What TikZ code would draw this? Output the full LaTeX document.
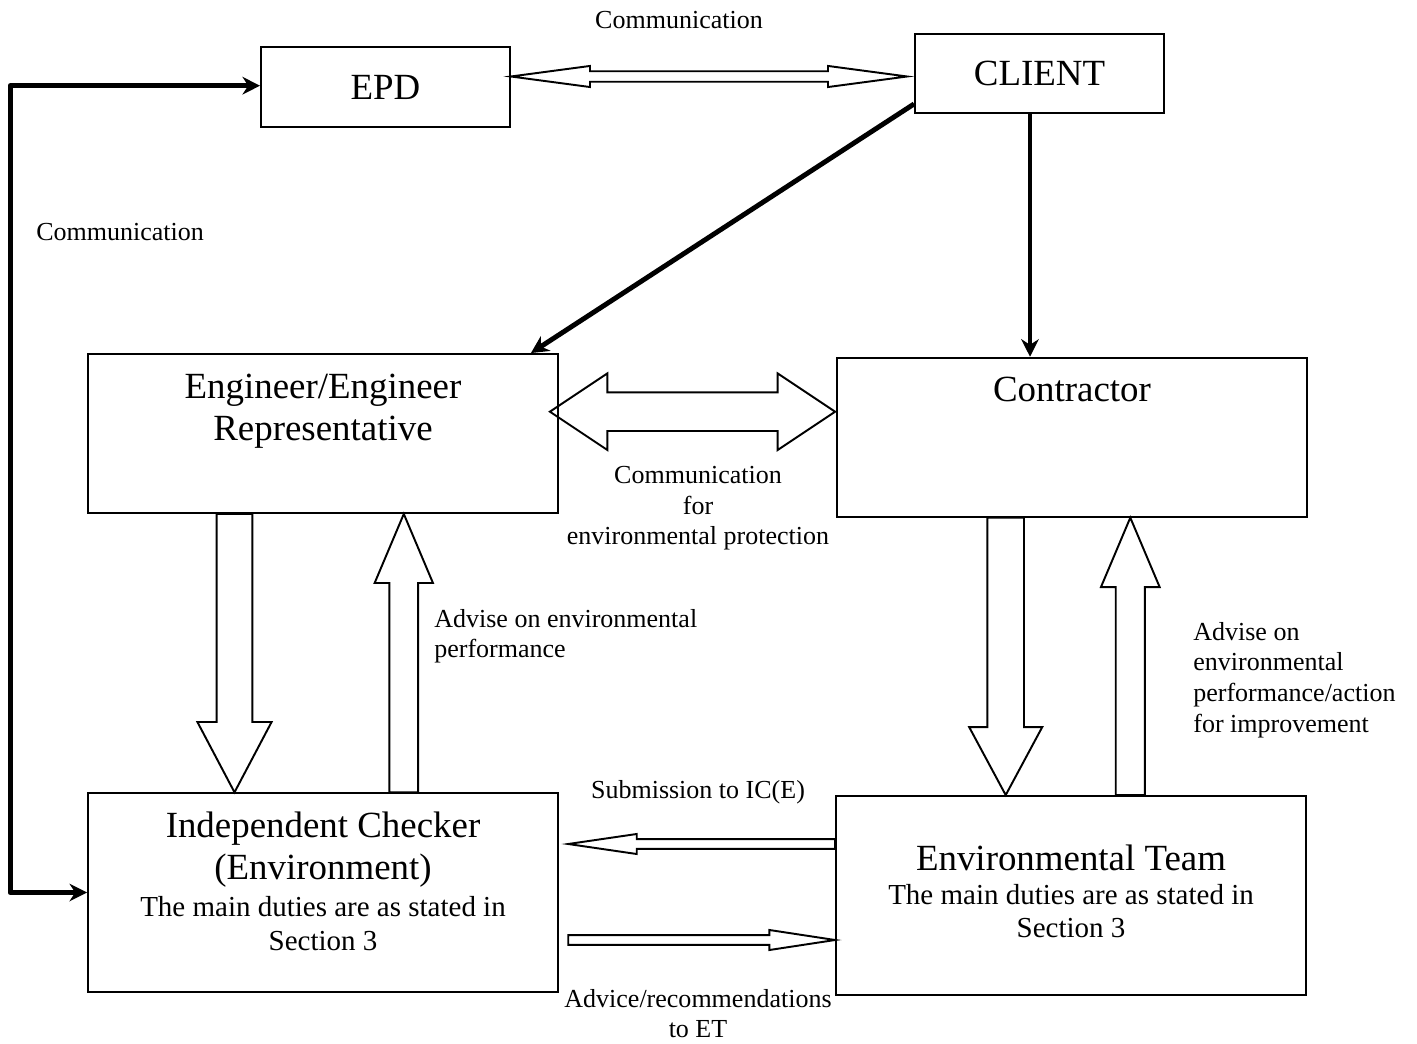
\documentclass[tikz,border=0pt]{standalone}
\usepackage{fontspec}
\setmainfont{Liberation Serif}
\usetikzlibrary{calc,arrows.meta}

\newcommand\bigtxt{\fontsize{21}{23.8}\selectfont}
\newcommand\midtxt{\fontsize{16.5}{19.05}\selectfont}
\newcommand\smltxt{\fontsize{14.8}{17.4}\selectfont}

% hollow block arrow: from, to, shaft half width, head half width, head length (pt)
\newcommand\blkarrow[5]{%
  \path[blockarr] let \p1=(#1), \p2=(#2),
      \n1={atan2(\y2-\y1,\x2-\x1)}, \n2={veclen(\x2-\x1,\y2-\y1)} in
    [shift={(\p1)}, rotate=\n1]
    (0pt,#3pt) -- (\n2*1pt-#5pt,#3pt) -- (\n2*1pt-#5pt,#4pt) -- (\n2*1pt,0pt)
    -- (\n2*1pt-#5pt,-#4pt) -- (\n2*1pt-#5pt,-#3pt) -- (0pt,-#3pt) -- cycle;}
\newcommand\dblblkarrow[5]{%
  \path[blockarr] let \p1=(#1), \p2=(#2),
      \n1={atan2(\y2-\y1,\x2-\x1)}, \n2={veclen(\x2-\x1,\y2-\y1)} in
    [shift={(\p1)}, rotate=\n1]
    (0pt,0pt) -- (#5pt,#4pt) -- (#5pt,#3pt) -- (\n2*1pt-#5pt,#3pt)
    -- (\n2*1pt-#5pt,#4pt) -- (\n2*1pt,0pt) -- (\n2*1pt-#5pt,-#4pt)
    -- (\n2*1pt-#5pt,-#3pt) -- (#5pt,-#3pt) -- (#5pt,-#4pt) -- cycle;}

\tikzset{
  box/.style={draw, line width=1.1pt, minimum width=9.4cm, inner sep=0pt},
  ttl/.style={font=\bigtxt, align=center, inner sep=0pt},
  note/.style={font=\midtxt, align=center, inner sep=0pt},
  lbl/.style={font=\smltxt, inner sep=0pt},
  blockarr/.style={draw, line width=1.1pt, line join=miter},
  thickarr/.style={line width=2.8pt, line join=round, ->},
  >={Stealth[length=10pt,width=10pt]}
}

\begin{document}
\begin{tikzpicture}[x=0.02cm, y=-0.02cm]
\useasboundingbox (0,0) rectangle (1417,1044);

% BOXES
  \node[box, minimum width=4.98cm, minimum height=1.6cm, font=\bigtxt] (epd) at (385.5,87) {EPD};
  \node[box, minimum width=4.98cm, minimum height=1.58cm, font=\bigtxt] (client) at (1039.5,73.5) {CLIENT};
  \node[box, minimum height=3.18cm] (eng) at (323,433.5) {};
  \node[box, minimum height=3.18cm] (contr) at (1072,437.2) {};
  \node[box, minimum height=3.97cm] (ic) at (323,892.5) {};
  \node[box, minimum height=3.98cm] (et) at (1071,895.5) {};

% BOX TEXTS
  \node[ttl, anchor=north] (engtxt) at ($(eng.north)+(0,21)$) {Engineer/Engineer\\Representative};
  \node[ttl, anchor=base] (contrtxt) at ($(contr.north)+(0,45)$) {Contractor};
  \node[ttl, anchor=north] (ictxt) at ($(ic.north)+(0,19.4)$) {Independent Checker\\(Environment)};
  \node[note, anchor=north] (icnote) at ($(ic.north)+(0,104)$) {The main duties are as stated in\\Section 3};
  \node[ttl, anchor=base] (ettxt) at ($(et.north)+(0,75)$) {Environmental Team};
  \node[note, anchor=north] (etnote) at ($(et.north)+(0,89)$) {The main duties are as stated in\\Section 3};

% THICK ARROWS
  \coordinate (cbend) at ($(epd.west)+(-250,-1.3)$);
  \draw[thickarr, <->] ($(epd.west)+(0,-1.3)$) -- (cbend) |- (ic.west);
  \draw[thickarr] ($(client.south west)+(0,-10)$) -- ($(eng.north east)+(-28,0)$);
  \coordinate (cdown) at ($(client.south)+(-9.5,0)$);
  \draw[thickarr] (cdown) -- (cdown |- contr.north);

% BLOCK ARROWS
  \dblblkarrow{$(epd.east)+(0,-10.5)$}{$(client.west)+(-7,3)$}{3}{6}{45}
  \dblblkarrow{$(eng.east)+(-9,-21.8)$}{$(contr.west)+(-1,-25.5)$}{11}{21.8}{32.7}

  \coordinate (ld) at ($(eng.south)+(-88.5,0)$);
  \blkarrow{ld}{ld |- ic.north}{10.2}{21.1}{40}
  \coordinate (lu) at ($(ic.north)+(80.8,0)$);
  \blkarrow{lu}{lu |- eng.south}{8.2}{16.6}{39.3}
  \coordinate (rd) at ($(contr.south)+(-66.3,0)$);
  \blkarrow{rd}{rd |- et.north}{10.4}{20.8}{38.7}
  \coordinate (ru) at ($(et.north)+(59.3,0)$);
  \blkarrow{ru}{ru |- contr.south}{8.3}{16.7}{39.5}

  \coordinate (sub) at ($(et.west)+(0,-51.5)$);
  \coordinate (subend) at ($(ic.east)+(9.3,0)$);
  \blkarrow{sub}{sub -| subend}{2.75}{5.7}{39}
  \coordinate (adv) at ($(ic.east)+(9.3,47.5)$);
  \blkarrow{adv}{adv -| et.west}{2.8}{5.7}{37.4}

% LABELS
  \node[lbl, anchor=base] (commtop) at (679,29) {Communication};
  \node[lbl, anchor=base west] (commleft) at (36,241) {Communication};
  \node[lbl, align=center, anchor=north] (commenv) at (698,466) {Communication\\for\\environmental protection};
  \node[lbl, align=left, anchor=north west] (advleft) at (434,609) {Advise on environmental\\performance};
  \node[lbl, align=left, anchor=north west] (advright) at (1193,622) {Advise on\\environmental\\performance/action\\for improvement};
  \node[lbl, anchor=base] (submit) at (698,798) {Submission to IC(E)};
  \node[lbl, align=center, anchor=north] (advice) at (698,989) {Advice/recommendations\\to ET};
\end{tikzpicture}
\end{document}
